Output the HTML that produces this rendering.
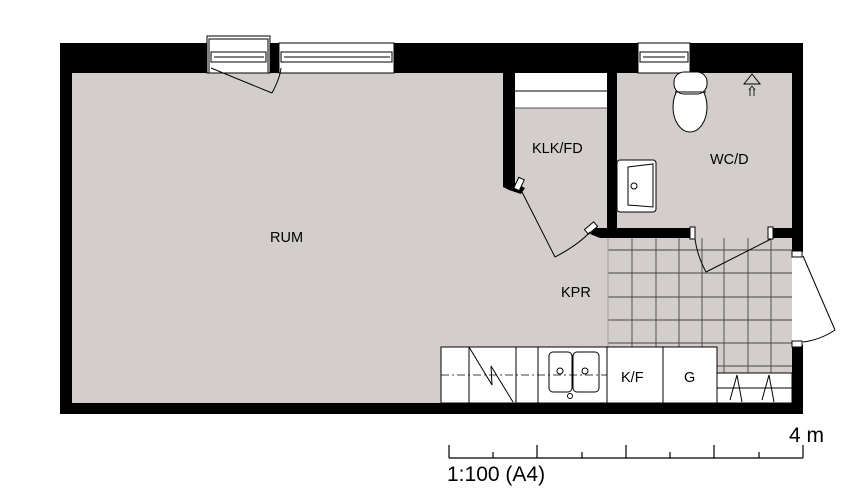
<!DOCTYPE html>
<html><head><meta charset="utf-8"><style>
html,body{margin:0;padding:0;background:#fff;width:847px;height:503px;overflow:hidden}
svg{display:block}
text{font-family:"Liberation Sans",sans-serif;fill:#000}
</style></head><body>
<svg width="847" height="503" viewBox="0 0 847 503" xmlns="http://www.w3.org/2000/svg">
<rect x="72" y="73" width="720" height="330" fill="#d3cecc"/>
<g stroke="#444" stroke-width="0.9" fill="none">
<line x1="632" y1="238" x2="632" y2="347"/><line x1="656" y1="238" x2="656" y2="347"/>
<line x1="679" y1="238" x2="679" y2="347"/><line x1="702" y1="238" x2="702" y2="347"/>
<line x1="724" y1="238" x2="724" y2="373"/><line x1="748" y1="238" x2="748" y2="373"/>
<line x1="771" y1="238" x2="771" y2="373"/>
<line x1="608" y1="250" x2="792" y2="250"/><line x1="608" y1="273" x2="792" y2="273"/>
<line x1="608" y1="297" x2="792" y2="297"/><line x1="608" y1="320" x2="792" y2="320"/>
<line x1="608" y1="343" x2="792" y2="343"/><line x1="717" y1="366" x2="792" y2="366"/>
<line x1="608" y1="238" x2="608" y2="347" stroke="#999"/>
</g>
<rect x="60" y="43" width="743" height="30" fill="#000"/>
<rect x="60" y="43" width="12" height="371" fill="#000"/>
<rect x="60" y="403" width="743" height="11" fill="#000"/>
<rect x="792" y="43" width="11" height="209" fill="#000"/>
<rect x="792" y="345" width="11" height="69" fill="#000"/>
<g fill="#fff" stroke="#000" stroke-width="1">
<rect x="207" y="36" width="63" height="37" fill="#fff"/>
<rect x="209" y="39" width="59" height="34"/>
<rect x="211" y="52" width="55" height="10"/>
<line x1="214" y1="57" x2="264" y2="57"/>
<rect x="279" y="43" width="115" height="30"/>
<rect x="281" y="52" width="111" height="10"/>
<line x1="284" y1="57" x2="390" y2="57"/>
<rect x="638" y="43" width="52" height="30"/>
<rect x="640" y="52" width="48" height="10"/>
<line x1="643" y1="57" x2="685" y2="57"/>
</g>
<path d="M211 68 L272 93" stroke="#000" fill="none"/>
<path d="M272 93 Q280 78 281 68" stroke="#000" fill="none"/>
<rect x="503" y="73" width="12" height="112" fill="#000"/>
<polygon points="503,183 515,183 525,188 521,194 509,190 503,187" fill="#000"/>
<rect x="516" y="178" width="6" height="12" transform="rotate(25 519 184)" fill="#fff" stroke="#000"/>
<rect x="607" y="73" width="10" height="165" fill="#000"/>
<polygon points="595,228 693,228 693,238 600,238 590,234" fill="#000"/>
<rect x="588" y="222" width="6" height="12" transform="rotate(50 591 228)" fill="#fff" stroke="#000"/>
<rect x="770" y="228" width="22" height="10" fill="#000"/>
<rect x="690" y="227" width="5" height="12" fill="#fff" stroke="#000"/>
<rect x="768" y="227" width="5" height="12" fill="#fff" stroke="#000"/>
<rect x="792" y="251" width="10" height="6" fill="#fff" stroke="#000"/>
<rect x="792" y="341" width="10" height="6" fill="#fff" stroke="#000"/>
<rect x="515" y="73" width="92" height="35" fill="#fff"/>
<line x1="515" y1="91" x2="607" y2="91" stroke="#000"/>
<line x1="515" y1="108" x2="607" y2="108" stroke="#555"/>
<g stroke="#000" fill="none" stroke-width="1">
<line x1="521" y1="190" x2="555" y2="257"/>
<path d="M555 257 Q578 245 590 232"/>
<line x1="771" y1="239" x2="706" y2="272"/>
<path d="M706 272 Q697 255 695 239"/>
<line x1="803" y1="256" x2="835" y2="330"/>
<path d="M835 330 Q820 340 803 342"/>
</g>
<g stroke="#000" fill="#fff" stroke-width="1">
<ellipse cx="690" cy="107" rx="17" ry="25"/>
<rect x="674" y="72" width="33" height="22" rx="10"/>
<line x1="675" y1="92" x2="706" y2="92"/>
</g>
<polygon points="744,84 752,74 760,84" fill="none" stroke="#000"/>
<path d="M750 96 L750 88 M754 96 L754 88 M749 90 L752 86 L755 90" stroke="#000" fill="none" stroke-width="0.8"/>
<rect x="617" y="160" width="39" height="52" rx="3" fill="#fff" stroke="#000"/>
<path d="M628 167 L653 164 L653 207 L628 205 Z" fill="none" stroke="#000"/>
<circle cx="634" cy="186" r="3" fill="none" stroke="#000"/>
<g stroke="#000" stroke-width="1" fill="#fff">
<rect x="441" y="347" width="276" height="56"/>
<line x1="469" y1="347" x2="469" y2="403"/>
<line x1="516" y1="347" x2="516" y2="403"/>
<line x1="538" y1="347" x2="538" y2="403"/>
<line x1="607" y1="347" x2="607" y2="403"/>
<line x1="663" y1="347" x2="663" y2="403"/>
<line x1="441" y1="375" x2="607" y2="375" stroke-dasharray="8,3,2,3" stroke-width="0.8"/>
<path d="M469 347 L492 385 L491 366 L513 402" fill="none"/>
<rect x="549" y="352" width="23" height="40" rx="4" fill="none"/>
<rect x="573" y="352" width="26" height="40" rx="4" fill="none"/>
<circle cx="560" cy="371" r="3" fill="none"/>
<circle cx="585" cy="371" r="3" fill="none"/>
<circle cx="570" cy="396" r="2.5"/>
<rect x="717" y="373" width="75" height="30"/>
<line x1="717" y1="388" x2="792" y2="388"/>
<path d="M730 400 L737 375 L742 402 M762 400 L769 375 L774 402" fill="none"/>
</g>
<g font-size="14.5">
<text x="270" y="242">RUM</text>
<text x="532" y="153">KLK/FD</text>
<text x="710" y="164">WC/D</text>
<text x="561" y="297">KPR</text>
<text x="621" y="382">K/F</text>
<text x="684" y="382">G</text>
</g>
<g stroke="#000" stroke-width="1.2" fill="none">
<line x1="449" y1="458" x2="803" y2="458"/>
<line x1="449" y1="445" x2="449" y2="458"/>
<line x1="493" y1="452" x2="493" y2="458"/>
<line x1="537" y1="445" x2="537" y2="458"/>
<line x1="582" y1="452" x2="582" y2="458"/>
<line x1="626" y1="445" x2="626" y2="458"/>
<line x1="670" y1="452" x2="670" y2="458"/>
<line x1="714" y1="445" x2="714" y2="458"/>
<line x1="759" y1="452" x2="759" y2="458"/>
<line x1="803" y1="445" x2="803" y2="458"/>
</g>
<text x="789" y="442" font-size="21">4 m</text>
<text x="447" y="481" font-size="21">1:100 (A4)</text>
</svg>
</body></html>
